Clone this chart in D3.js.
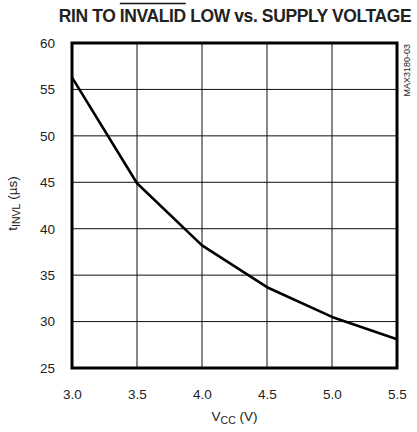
<!DOCTYPE html>
<html>
<head>
<meta charset="utf-8">
<script src="https://cdn.jsdelivr.net/npm/d3@7"></script>
<style>
  body { margin: 0; background: #fff; }
  text { font-family: "Liberation Sans", Arial, sans-serif; fill: #222; }
</style>
</head>
<body>
<section></section>
<script>
// data
var vcc = [3.0, 3.5, 4.0, 4.5, 5.0, 5.5];
var tinvl = [56.3, 44.9, 38.2, 33.7, 30.5, 28.1];
var xTicks = [3.0, 3.5, 4.0, 4.5, 5.0, 5.5];
var yTicks = [25, 30, 35, 40, 45, 50, 55, 60];

var margin = {top: 43, right: 20, bottom: 64, left: 72},
  width = 417 - margin.left - margin.right,
  height = 432 - margin.top - margin.bottom;

var svg = d3.select("section").append("svg")
      .attr("width", 417)
      .attr("height", 432),
    g = svg.append("g")
      .attr("transform", "translate(" + margin.left + "," + margin.top + ")");

var x = d3.scaleLinear().domain([3.0, 5.5]).range([0, width]);
var y = d3.scaleLinear().domain([25, 60]).range([height, 0]);

// grid
g.selectAll(".vgrid")
  .data(xTicks.slice(1, -1))
  .enter().append("line")
  .attr("x1", function(d) { return x(d); })
  .attr("x2", function(d) { return x(d); })
  .attr("y1", 0).attr("y2", height)
  .attr("stroke", "#111").attr("stroke-width", 1);

g.selectAll(".hgrid")
  .data(yTicks.slice(1, -1))
  .enter().append("line")
  .attr("y1", function(d) { return y(d); })
  .attr("y2", function(d) { return y(d); })
  .attr("x1", 0).attr("x2", width)
  .attr("stroke", "#111").attr("stroke-width", 1);

// axes (labels only)
var xAxis = g.append("g")
  .attr("transform", "translate(0," + height + ")")
  .call(d3.axisBottom(x).tickValues(xTicks).tickFormat(d3.format(".1f")).tickSize(0).tickPadding(21));
var yAxis = g.append("g")
  .call(d3.axisLeft(y).tickValues(yTicks).tickSize(0).tickPadding(17));
[xAxis, yAxis].forEach(function(a) {
  a.select(".domain").remove();
  a.selectAll("text").attr("font-size", 13.5).attr("fill", "#222")
    .style("font-family", "'Liberation Sans', Arial, sans-serif");
});

// curve
var line = d3.line()
  .x(function(d, i) { return x(vcc[i]); })
  .y(function(d) { return y(d); });

g.append("path")
  .datum(tinvl)
  .attr("d", line)
  .attr("fill", "none")
  .attr("stroke", "#000")
  .attr("stroke-width", 2.6)
  .attr("stroke-linejoin", "round");

// frame
g.append("rect")
  .attr("x", 0).attr("y", 0)
  .attr("width", width).attr("height", height)
  .attr("fill", "none")
  .attr("stroke", "#000")
  .attr("stroke-width", 3);

// title
var title = svg.append("text")
  .attr("x", 235).attr("y", 22)
  .attr("text-anchor", "middle")
  .attr("font-size", 17.5)
  .attr("font-weight", "bold")
  .attr("fill", "#111")
  .style("letter-spacing", "-0.4px");
title.append("tspan").text("RIN TO ");
title.append("tspan").attr("class", "bar").text("INVALID");
title.append("tspan").text(" LOW vs. SUPPLY VOLTAGE");

// overbar over INVALID
var bb = title.select(".bar").node();
var start = bb.getStartPositionOfChar(0).x;
var end = bb.getEndPositionOfChar(bb.getNumberOfChars() - 1).x;
svg.append("line")
  .attr("x1", start).attr("x2", end)
  .attr("y1", 3.5).attr("y2", 3.5)
  .attr("stroke", "#111").attr("stroke-width", 1.3);

// x label
var xl = svg.append("text")
  .attr("x", margin.left + width / 2).attr("y", 421)
  .attr("text-anchor", "middle")
  .attr("font-size", 13.5);
xl.append("tspan").text("V");
xl.append("tspan").attr("font-size", 10.5).attr("dy", 3).text("CC");
xl.append("tspan").attr("dy", -3).text(" (V)");

// y label
var yl = svg.append("text")
  .attr("transform", "translate(17," + (margin.top + height / 2 - 2) + ") rotate(-90)")
  .attr("text-anchor", "middle")
  .attr("font-size", 13.5);
yl.append("tspan").text("t");
yl.append("tspan").attr("font-size", 10.5).attr("dy", 3).text("INVL");
yl.append("tspan").attr("dy", -3).text(" (\u00b5s)");

// part code
svg.append("text")
  .attr("transform", "translate(410,44) rotate(-90)")
  .attr("text-anchor", "end")
  .attr("font-size", 9)
  .text("MAX3180-03");
</script>
</body>
</html>
